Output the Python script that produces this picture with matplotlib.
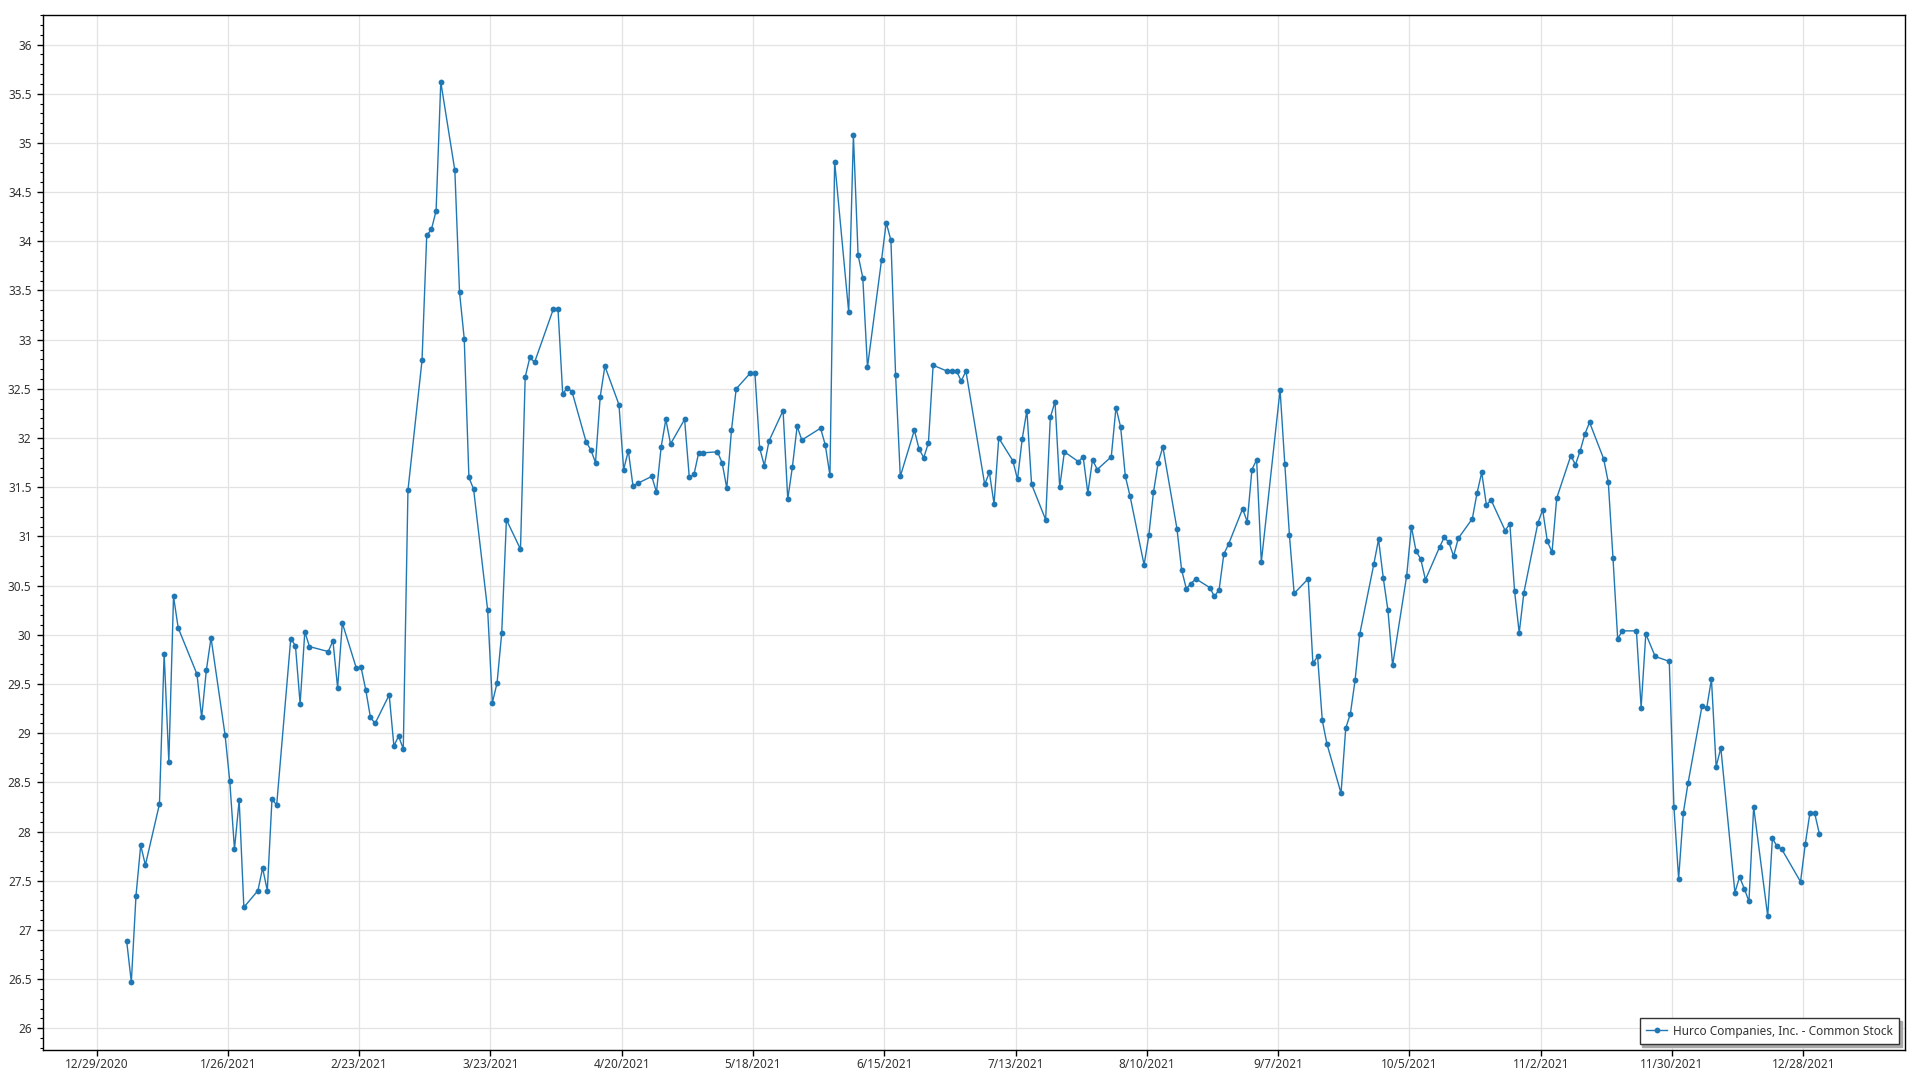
import matplotlib
matplotlib.use('Agg')
import matplotlib.pyplot as plt
import matplotlib.dates as mdates
from matplotlib.ticker import MultipleLocator, FuncFormatter, NullLocator
import pandas as pd

series_name = 'Hurco Companies, Inc. - Common Stock'

# NYSE/Nasdaq holidays 2021 (no trading)
holidays = ['2021-01-18', '2021-02-15', '2021-04-02', '2021-05-31',
            '2021-07-05', '2021-09-06', '2021-11-25', '2021-12-24']

# daily close, one list per month
close_jan = [26.89, 26.47, 27.35, 27.86, 27.66, 28.28, 29.81, 28.71, 30.39, 30.07,
             29.60, 29.16, 29.64, 29.97, 28.98, 28.51, 27.82, 28.32, 27.23]
close_feb = [27.40, 27.63, 27.40, 28.33, 28.27, 29.96, 29.89, 29.30, 30.03, 29.88,
             29.83, 29.94, 29.46, 30.12, 29.66, 29.67, 29.44, 29.16, 29.10]
close_mar = [29.39, 28.87, 28.97, 28.84, 31.47, 32.79, 34.06, 34.12, 34.31, 35.62,
             34.72, 33.48, 33.01, 31.60, 31.48, 30.25, 29.31, 29.51, 30.02, 31.17,
             30.87, 32.62, 32.82]
close_apr = [32.77, 33.31, 33.31, 32.45, 32.51, 32.47, 31.96, 31.88, 31.75, 32.42,
             32.73, 32.34, 31.68, 31.87, 31.51, 31.54, 31.61, 31.45, 31.91, 32.19,
             31.94]
close_may = [32.19, 31.60, 31.63, 31.85, 31.85, 31.86, 31.75, 31.49, 32.08, 32.50,
             32.66, 32.66, 31.90, 31.72, 31.97, 32.28, 31.38, 31.71, 32.12, 31.98]
close_jun = [32.10, 31.93, 31.62, 34.81, 33.28, 35.08, 33.86, 33.63, 32.72, 33.81,
             34.19, 34.01, 32.64, 31.61, 32.08, 31.89, 31.80, 31.95, 32.74, 32.68,
             32.68, 32.68]
close_jul = [32.58, 32.68, 31.53, 31.65, 31.33, 32.00, 31.77, 31.58, 31.99, 32.28,
             31.53, 31.17, 32.21, 32.37, 31.50, 31.86, 31.76, 31.81, 31.44, 31.78,
             31.68]
close_aug = [31.81, 32.31, 32.11, 31.61, 31.41, 30.71, 31.01, 31.45, 31.75, 31.91,
             31.08, 30.66, 30.47, 30.52, 30.57, 30.48, 30.39, 30.46, 30.82, 30.92,
             31.28, 31.15]
close_sep = [31.68, 31.78, 30.74, 32.49, 31.74, 31.01, 30.42, 30.57, 29.71, 29.78,
             29.13, 28.89, 28.39, 29.05, 29.20, 29.54, 30.01, 30.72, 30.97, 30.58,
             30.25]
close_oct = [29.69, 30.60, 31.10, 30.85, 30.77, 30.56, 30.89, 30.99, 30.94, 30.80,
             30.98, 31.18, 31.44, 31.65, 31.32, 31.37, 31.06, 31.13, 30.45, 30.02,
             30.43]
close_nov = [31.14, 31.27, 30.95, 30.84, 31.39, 31.82, 31.73, 31.87, 32.04, 32.16,
             31.79, 31.55, 30.78, 29.96, 30.04, 30.04, 29.26, 30.01, 29.78, 29.73,
             28.25]
close_dec = [27.52, 28.19, 28.49, 29.28, 29.26, 29.55, 28.66, 28.85, 27.38, 27.54,
             27.42, 27.29, 28.25, 27.14, 27.93, 27.85, 27.82, 27.49, 27.87, 28.19,
             28.19, 27.98]

close = (close_jan + close_feb + close_mar + close_apr + close_may + close_jun +
         close_jul + close_aug + close_sep + close_oct + close_nov + close_dec)
# quotes are stamped during the session, not at midnight
dates = (pd.bdate_range('2021-01-04', '2021-12-31', freq='C', holidays=holidays)
         + pd.Timedelta(hours=10))

tick_dates = pd.date_range('2020-12-29', '2021-12-28', freq='28D')

plt.rcParams['font.family'] = ['Noto Sans', 'DejaVu Sans']

fig = plt.figure(figsize=(19.2, 10.8), dpi=100)
ax = fig.add_axes([0.0222, 0.0278, 0.9700, 0.9583])

ax.plot(dates, close, color='#1f77b4', linewidth=1.0, marker='o',
        markersize=4.2, markeredgewidth=0, label=series_name)

ax.set_xlim(pd.Timestamp('2020-12-29') - pd.Timedelta(days=11.5),
            pd.Timestamp('2021-12-28') + pd.Timedelta(days=21.7))
ax.set_ylim(25.78, 36.30)

ax.set_xticks(tick_dates)
ax.xaxis.set_minor_locator(NullLocator())
ax.xaxis.set_major_formatter(FuncFormatter(
    lambda x, pos: '{0.month}/{0.day}/{0.year}'.format(mdates.num2date(x))))
ax.yaxis.set_major_locator(MultipleLocator(0.5))
ax.yaxis.set_minor_locator(MultipleLocator(0.1))
ax.yaxis.set_major_formatter(FuncFormatter(lambda v, pos: f'{v:g}'))

ax.tick_params(which='major', direction='out', length=4, width=1, color='black',
               labelcolor='#333333', labelsize=8.5)
ax.tick_params(axis='y', which='major', pad=4)
ax.tick_params(axis='x', which='major', pad=2)
ax.tick_params(axis='y', which='minor', direction='out', length=2.5, width=0.8, color='black')

ax.grid(True, which='major', color='#e3e3e3', linewidth=0.9)
ax.set_axisbelow(True)
for s in ax.spines.values():
    s.set_color('black')
    s.set_linewidth(1.0)

leg = ax.legend(loc='lower right', fontsize=8.5, fancybox=False, framealpha=1,
                edgecolor='#333333', borderaxespad=0.5, borderpad=0.55,
                handlelength=1.8, handletextpad=0.45,
                shadow={'color': '#a8a8a8', 'alpha': 1, 'ox': 2, 'oy': -2})
leg.get_frame().set_linewidth(1.0)
for t in leg.get_texts():
    t.set_color('#333333')

fig.savefig('out.png', dpi=100)
